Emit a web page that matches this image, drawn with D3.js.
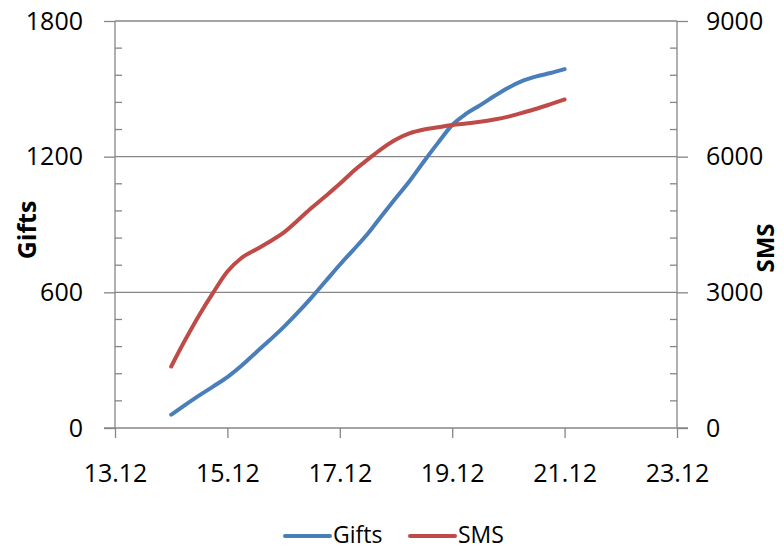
<!DOCTYPE html>
<html>
<head>
<meta charset="utf-8">
<script src="https://cdn.jsdelivr.net/npm/d3@7"></script>
<style>
  body { margin: 0; background: #fff; }
  svg text { font-family: "Open Sans", Lato, sans-serif; fill: #000; }
</style>
</head>
<body>
<div id="chart"></div>
<script>
// day of December (fractional)
const days = [14, 14.25, 14.5, 14.75, 15, 15.25, 15.5, 15.75, 16, 16.25, 16.5, 16.75,
              17, 17.25, 17.5, 17.75, 18, 18.25, 18.5, 18.75, 19, 19.25, 19.5, 19.75,
              20, 20.25, 20.5, 20.75, 21];
const gifts = [59, 102, 144, 184, 225, 275, 332, 388, 446, 510, 578, 650,
               722, 790, 860, 940, 1018, 1095, 1180, 1262, 1340, 1390, 1428, 1468,
               1505, 1535, 1555, 1570, 1587];
const sms = [1360, 1950, 2500, 3000, 3460, 3760, 3940, 4120, 4320, 4590, 4870, 5130,
             5400, 5690, 5940, 6180, 6380, 6520, 6600, 6650, 6700, 6735, 6770, 6820,
             6885, 6970, 7060, 7160, 7264];
const xTicks = [13, 15, 17, 19, 21, 23];
const giftTicks = [0, 600, 1200, 1800];
const smsTicks = [0, 3000, 6000, 9000];

const width = 784, height = 551;
const plotL = 115, plotR = 677, plotT = 21, plotB = 428;
const axisColor = "#868686";

const svg = d3.select("#chart").append("svg")
    .attr("width", width)
    .attr("height", height);

const x = d3.scaleLinear().domain([13, 23]).range([plotL, plotR]);
const yL = d3.scaleLinear().domain([0, 1800]).range([plotB, plotT]);
const yR = d3.scaleLinear().domain([0, 9000]).range([plotB, plotT]);

// gridlines
svg.append("g").selectAll("line")
    .data(giftTicks.filter(d => d > 0))
    .join("line")
    .attr("x1", plotL).attr("x2", plotR)
    .attr("y1", d => yL(d)).attr("y2", d => yL(d))
    .attr("stroke", axisColor).attr("stroke-width", 1.3);

// minor ticks, pointing inward
const minorL = d3.range(120, 1800, 120).filter(d => d % 600 !== 0);
svg.append("g").selectAll("line")
    .data(minorL)
    .join("line")
    .attr("x1", plotL).attr("x2", plotL + 7)
    .attr("y1", d => yL(d)).attr("y2", d => yL(d))
    .attr("stroke", axisColor).attr("stroke-width", 1.3);
const minorR = d3.range(600, 9000, 600).filter(d => d % 3000 !== 0);
svg.append("g").selectAll("line")
    .data(minorR)
    .join("line")
    .attr("x1", plotR - 7).attr("x2", plotR)
    .attr("y1", d => yR(d)).attr("y2", d => yR(d))
    .attr("stroke", axisColor).attr("stroke-width", 1.3);

// left axis
const axL = svg.append("g")
    .attr("transform", `translate(${plotL},0)`)
    .call(d3.axisLeft(yL).tickValues(giftTicks).tickSize(11).tickPadding(21)
        .tickFormat(d3.format("d")));
// right axis
const axR = svg.append("g")
    .attr("transform", `translate(${plotR},0)`)
    .call(d3.axisRight(yR).tickValues(smsTicks).tickSize(11).tickPadding(18)
        .tickFormat(d3.format("d")));
// bottom axis
const axB = svg.append("g")
    .attr("transform", `translate(0,${plotB})`)
    .call(d3.axisBottom(x).tickValues(xTicks).tickSize(10).tickPadding(26)
        .tickFormat(d => d + ".12"));

[axL, axR, axB].forEach(g => {
    g.select(".domain").attr("stroke", axisColor).attr("stroke-width", 1.3);
    g.selectAll(".tick line").attr("stroke", axisColor).attr("stroke-width", 1.3);
    g.selectAll(".tick text").style("font-size", "25px").attr("fill", "#000");
});
axL.select(".domain").attr("d", `M0,${plotT}V${plotB}`);
axR.select(".domain").attr("d", `M0,${plotT}V${plotB}`);
axB.select(".domain").attr("d", `M${plotL - 11},0H${plotR + 11}`);

// lines
const pts = vals => days.map((d, i) => [d, vals[i]]);
const lineL = d3.line().x(d => x(d[0])).y(d => yL(d[1])).curve(d3.curveMonotoneX);
const lineR = d3.line().x(d => x(d[0])).y(d => yR(d[1])).curve(d3.curveMonotoneX);

svg.append("path")
    .attr("d", lineL(pts(gifts)))
    .attr("fill", "none").attr("stroke", "#4a7ebb")
    .attr("stroke-width", 4).attr("stroke-linecap", "round");
svg.append("path")
    .attr("d", lineR(pts(sms)))
    .attr("fill", "none").attr("stroke", "#be4b48")
    .attr("stroke-width", 4).attr("stroke-linecap", "round");

// axis titles
svg.append("text")
    .attr("transform", "translate(36,230) rotate(-90)")
    .attr("text-anchor", "middle")
    .style("font-size", "25px").style("font-weight", "bold")
    .text("Gifts");
svg.append("text")
    .attr("transform", "translate(774,248) rotate(-90)")
    .attr("text-anchor", "middle")
    .style("font-size", "24px").style("font-weight", "bold")
    .text("SMS");

// legend
const legend = [
    { name: "Gifts", color: "#4a7ebb", x: 285 },
    { name: "SMS", color: "#be4b48", x: 410 }
];
const lg = svg.append("g");
lg.selectAll("line")
    .data(legend)
    .join("line")
    .attr("x1", d => d.x).attr("x2", d => d.x + 45)
    .attr("y1", 536).attr("y2", 536)
    .attr("stroke", d => d.color).attr("stroke-width", 4)
    .attr("stroke-linecap", "round");
lg.selectAll("text")
    .data(legend)
    .join("text")
    .attr("x", d => d.x + 48)
    .attr("y", 543)
    .style("font-size", "23px")
    .text(d => d.name);
</script>
</body>
</html>
